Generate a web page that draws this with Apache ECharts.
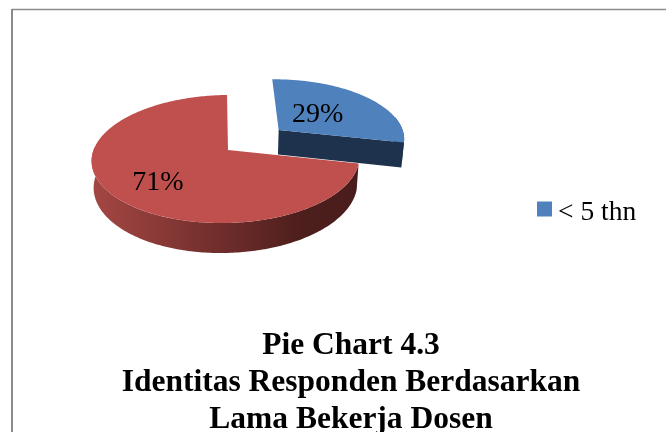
<!DOCTYPE html>
<html><head><meta charset="utf-8">
<style>html,body{margin:0;padding:0;background:#fff}#c{width:666px;height:432px}</style>
<script src="https://cdn.jsdelivr.net/npm/echarts@6/dist/echarts.min.js"></script>
</head><body><div id="c"></div>
<script>
const categories = ['< 5 thn', 'Lainnya'];
const values = [29, 71];
const legendLabels = ['< 5 thn'];
const titleLines = ['Pie Chart 4.3', 'Identitas Responden Berdasarkan', 'Lama Bekerja Dosen'];

const total = values.reduce((a, b) => a + b, 0);
const CX = 228, CY = 150, RX = 132.5, RY = 62.7, K = 0.14, KX = 0.02, DEPTH = 25.8, XS = 0.985, TILT = -1 * Math.PI / 180;
const styles = [
  { top: '#4F81BD', side: '#1E324E', explode: 0.47, nudge: [4, -2], labelR: 0.43, dy: 0 },
  { top: '#C0504D', side: null, explode: 0, nudge: [0, 0], labelR: 0.63, dy: 6 }
];
function project(u, v, bottom, nudge) {
  const w = 1 + K * v + KX * u;
  let x = RX * u / w, y = -RY * v / w;
  const xr = x * Math.cos(TILT) - y * Math.sin(TILT), yr = x * Math.sin(TILT) + y * Math.cos(TILT);
  x = xr; y = yr;
  if (bottom) { x *= XS; y += DEPTH / w; }
  return [CX + x + nudge[0], CY + y + nudge[1]];
}
function renderSlice(params, api) {
  const idx = params.seriesIndex;
  const value = api.value(0);
  let before = 0;
  for (let i = 0; i < idx; i++) before += values[i];
  const a0 = before / total * 2 * Math.PI, a1 = (before + value) / total * 2 * Math.PI;
  const mid = (a0 + a1) / 2, st = styles[idx];
  const ox = st.explode * Math.sin(mid), oy = st.explode * Math.cos(mid);
  const pt = (a, r, b) => project(ox + r * Math.sin(a), oy + r * Math.cos(a), b, st.nudge);
  const arc = (from, to, b) => {
    const n = Math.max(2, Math.ceil(Math.abs(to - from) * 60)), out = [];
    for (let i = 0; i <= n; i++) out.push(pt(from + (to - from) * i / n, 1, b));
    return out;
  };
  const sideFill = st.side || new echarts.graphic.LinearGradient(91, 0, 357, 0, [
    { offset: 0, color: '#A54743' }, { offset: 0.5, color: '#6E2D2B' },
    { offset: 0.8, color: '#4C1E1C' }, { offset: 1, color: '#4A1D1C' }
  ], true);
  const children = [];
  const wallFrom = Math.max(a0, Math.PI / 2 - 0.2), wallTo = Math.min(a1, 3 * Math.PI / 2 + 0.1);
  children.push({ type: 'polygon', shape: { points: arc(wallFrom, wallTo, false).concat(arc(wallTo, wallFrom, true)) }, style: { fill: sideFill } });
  if (idx === 0) {
    children.push({ type: 'polygon', shape: { points: [pt(0, 0, false), pt(a1, 1, false), pt(a1, 1, true), pt(0, 0, true)] }, style: { fill: st.side } });
  }
  children.push({ type: 'polygon', shape: { points: [pt(0, 0, false)].concat(arc(a0, a1, false)) }, style: { fill: st.top } });
  const lp = pt(mid, st.labelR, false);
  children.push({ type: 'text', style: { x: lp[0], y: lp[1] + st.dy, text: value + '%', fill: '#000', font: '28px "Liberation Serif"', align: 'center', verticalAlign: 'middle' }, z2: 10 });
  return { type: 'group', children };
}
const chart = echarts.init(document.getElementById('c'), null, { renderer: 'canvas' });
chart.setOption({
  animation: false,
  backgroundColor: '#fff',
  title: {
    text: titleLines.join('\n'), left: 346, top: 322, textAlign: 'center',
    textStyle: { fontFamily: 'Liberation Serif', fontWeight: 'bold', fontSize: 31.5, lineHeight: 37, color: '#000' }
  },
  legend: {
    data: legendLabels, left: 532, top: 194, itemWidth: 15, itemHeight: 23, itemGap: 0,
    icon: 'path://M0 0H15V15H0ZM0 23H0.01',
    textStyle: { fontFamily: 'Liberation Serif', fontSize: 27.5, color: '#000', padding: [0, 0, 0, 1] }
  },
  graphic: [
    { type: 'line', shape: { x1: 12, y1: 9.5, x2: 666, y2: 9.5 }, style: { stroke: '#8a8a8a', lineWidth: 1.6 } },
    { type: 'line', shape: { x1: 12, y1: 9, x2: 12, y2: 432 }, style: { stroke: '#8a8a8a', lineWidth: 2 } }
  ],
  series: categories.map((name, i) => ({
    type: 'custom', name, coordinateSystem: 'none', renderItem: renderSlice,
    itemStyle: { color: styles[i].top }, data: [[values[i]]], z: i + 1, silent: true
  }))
});
</script></body></html>
